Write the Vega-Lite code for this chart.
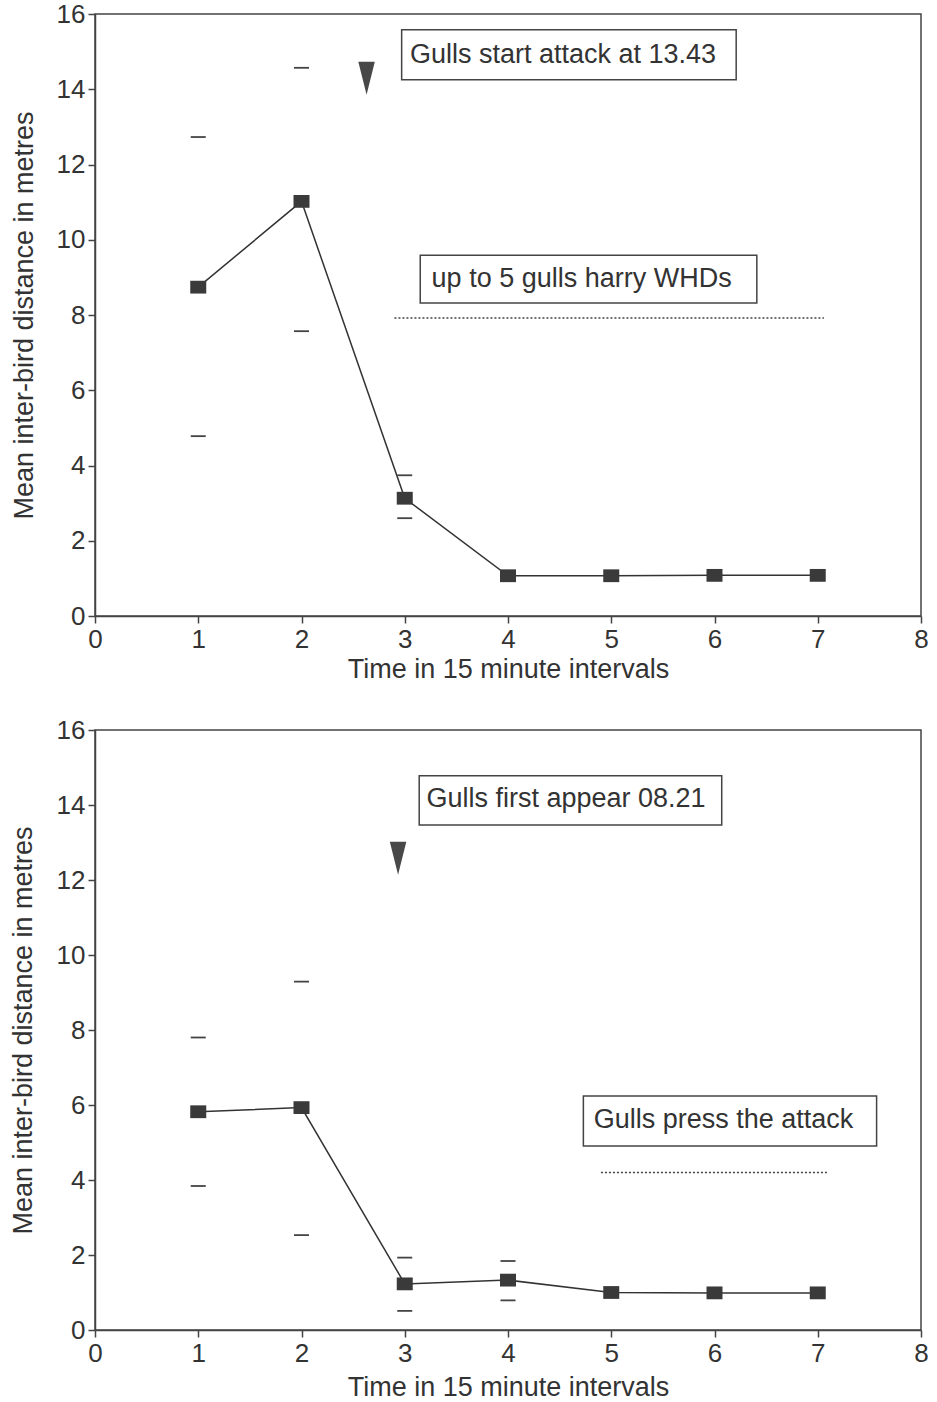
{
  "$schema": "https://vega.github.io/schema/vega-lite/v6.json",
  "padding": {"left": 8, "top": 0, "right": 4, "bottom": 0},
  "config": {
    "font": "Liberation Sans",
    "view": {"stroke": "#444", "strokeWidth": 1.5},
    "axis": {"grid": false, "domainColor": "#444", "domainWidth": 1.5, "tickColor": "#444", "tickWidth": 1.5, "tickSize": 7, "labelFontSize": 26, "labelColor": "#333", "labelPadding": 3, "titleFontSize": 27, "titleFontWeight": "normal", "titleColor": "#333", "labelFlush": false, "labelOverlap": false, "format": "d"}
  },
  "datasets": {
    "top_means": [
      {"t": 1, "mean": 8.74, "hi": 12.73, "lo": 4.78},
      {"t": 2, "mean": 11.02, "hi": 14.57, "lo": 7.57},
      {"t": 3, "mean": 3.13, "hi": 3.74, "lo": 2.6},
      {"t": 4, "mean": 1.07, "hi": null, "lo": null},
      {"t": 5, "mean": 1.07, "hi": null, "lo": null},
      {"t": 6, "mean": 1.08, "hi": null, "lo": null},
      {"t": 7, "mean": 1.08, "hi": null, "lo": null}
    ],
    "bottom_means": [
      {"t": 1, "mean": 5.82, "hi": 7.8, "lo": 3.84},
      {"t": 2, "mean": 5.93, "hi": 9.29, "lo": 2.53},
      {"t": 3, "mean": 1.23, "hi": 1.93, "lo": 0.51},
      {"t": 4, "mean": 1.33, "hi": 1.84, "lo": 0.79},
      {"t": 5, "mean": 1.0, "hi": null, "lo": null},
      {"t": 6, "mean": 0.99, "hi": null, "lo": null},
      {"t": 7, "mean": 0.99, "hi": null, "lo": null}
    ],
    "top_boxes": [
      {"x1": 2.97, "x2": 6.21, "y1": 15.58, "y2": 14.25, "label": "Gulls start attack at 13.43", "tx": 3.05, "ty": 14.9},
      {"x1": 3.15, "x2": 6.41, "y1": 9.59, "y2": 8.32, "label": "up to 5 gulls harry WHDs", "tx": 3.26, "ty": 8.95}
    ],
    "bottom_boxes": [
      {"x1": 3.14, "x2": 6.07, "y1": 14.78, "y2": 13.47, "label": "Gulls first appear 08.21", "tx": 3.21, "ty": 14.15},
      {"x1": 4.73, "x2": 7.57, "y1": 6.24, "y2": 4.91, "label": "Gulls press the attack", "tx": 4.83, "ty": 5.61}
    ],
    "top_dotted": [{"x1": 2.9, "x2": 7.06, "y": 7.92}],
    "bottom_dotted": [{"x1": 4.9, "x2": 7.1, "y": 4.2}],
    "top_arrow": [{"x": 2.63, "y": 14.29}],
    "bottom_arrow": [{"x": 2.935, "y": 12.58}]
  },
  "spacing": 33,
  "vconcat": [
    {
      "width": 826,
      "height": 602,
      "layer": [
        {
          "data": {"name": "top_boxes"},
          "mark": {"type": "rect", "fill": "white", "stroke": "#444", "strokeWidth": 1.5},
          "encoding": {
            "x": {"field": "x1", "type": "quantitative", "title": "Time in 15 minute intervals", "scale": {"domain": [0, 8], "nice": false}, "axis": {"values": [0, 1, 2, 3, 4, 5, 6, 7, 8], "titlePadding": 4}},
            "x2": {"field": "x2"},
            "y": {"field": "y1", "type": "quantitative", "title": "Mean inter-bird distance in metres", "scale": {"domain": [0, 16], "nice": false}, "axis": {"values": [0, 2, 4, 6, 8, 10, 12, 14, 16], "titlePadding": 18}},
            "y2": {"field": "y2"}
          }
        },
        {
          "data": {"name": "top_boxes"},
          "mark": {"type": "text", "align": "left", "baseline": "middle", "fontSize": 27, "color": "#333"},
          "encoding": {
            "x": {"field": "tx", "type": "quantitative", "title": "Time in 15 minute intervals"},
            "y": {"field": "ty", "type": "quantitative", "title": "Mean inter-bird distance in metres"},
            "text": {"field": "label"}
          }
        },
        {
          "data": {"name": "top_dotted"},
          "mark": {"type": "rule", "strokeDash": [2, 2], "strokeWidth": 1.5, "color": "#444"},
          "encoding": {
            "x": {"field": "x1", "type": "quantitative", "title": "Time in 15 minute intervals"},
            "x2": {"field": "x2"},
            "y": {"field": "y", "type": "quantitative", "title": "Mean inter-bird distance in metres"}
          }
        },
        {
          "data": {"name": "top_arrow"},
          "mark": {"type": "point", "shape": "M-0.5,-1L0.5,-1L0,1Z", "size": 1089, "filled": true, "color": "#484848", "opacity": 1},
          "encoding": {
            "x": {"field": "x", "type": "quantitative", "title": "Time in 15 minute intervals"},
            "y": {"field": "y", "type": "quantitative", "title": "Mean inter-bird distance in metres"}
          }
        },
        {
          "data": {"name": "top_means"},
          "mark": {"type": "line", "color": "#333", "strokeWidth": 1.5},
          "encoding": {
            "x": {"field": "t", "type": "quantitative", "title": "Time in 15 minute intervals"},
            "y": {"field": "mean", "type": "quantitative", "title": "Mean inter-bird distance in metres"}
          }
        },
        {
          "data": {"name": "top_means"},
          "mark": {"type": "point", "shape": "M-1,-0.8L1,-0.8L1,0.8L-1,0.8Z", "size": 256, "filled": true, "color": "#3a3a3a", "opacity": 1},
          "encoding": {
            "x": {"field": "t", "type": "quantitative", "title": "Time in 15 minute intervals"},
            "y": {"field": "mean", "type": "quantitative", "title": "Mean inter-bird distance in metres"}
          }
        },
        {
          "data": {"name": "top_means"},
          "mark": {"type": "point", "shape": "stroke", "size": 225, "filled": false, "strokeWidth": 1.8, "color": "#444", "opacity": 1},
          "encoding": {
            "x": {"field": "t", "type": "quantitative", "title": "Time in 15 minute intervals"},
            "y": {"field": "hi", "type": "quantitative", "title": "Mean inter-bird distance in metres"}
          }
        },
        {
          "data": {"name": "top_means"},
          "mark": {"type": "point", "shape": "stroke", "size": 225, "filled": false, "strokeWidth": 1.8, "color": "#444", "opacity": 1},
          "encoding": {
            "x": {"field": "t", "type": "quantitative", "title": "Time in 15 minute intervals"},
            "y": {"field": "lo", "type": "quantitative", "title": "Mean inter-bird distance in metres"}
          }
        }
      ]
    },
    {
      "width": 826,
      "height": 600,
      "layer": [
        {
          "data": {"name": "bottom_boxes"},
          "mark": {"type": "rect", "fill": "white", "stroke": "#444", "strokeWidth": 1.5},
          "encoding": {
            "x": {"field": "x1", "type": "quantitative", "title": "Time in 15 minute intervals", "scale": {"domain": [0, 8], "nice": false}, "axis": {"values": [0, 1, 2, 3, 4, 5, 6, 7, 8], "titlePadding": 8}},
            "x2": {"field": "x2"},
            "y": {"field": "y1", "type": "quantitative", "title": "Mean inter-bird distance in metres", "scale": {"domain": [0, 16], "nice": false}, "axis": {"values": [0, 2, 4, 6, 8, 10, 12, 14, 16], "titlePadding": 19}},
            "y2": {"field": "y2"}
          }
        },
        {
          "data": {"name": "bottom_boxes"},
          "mark": {"type": "text", "align": "left", "baseline": "middle", "fontSize": 27, "color": "#333"},
          "encoding": {
            "x": {"field": "tx", "type": "quantitative", "title": "Time in 15 minute intervals"},
            "y": {"field": "ty", "type": "quantitative", "title": "Mean inter-bird distance in metres"},
            "text": {"field": "label"}
          }
        },
        {
          "data": {"name": "bottom_dotted"},
          "mark": {"type": "rule", "strokeDash": [2, 2], "strokeWidth": 1.5, "color": "#444"},
          "encoding": {
            "x": {"field": "x1", "type": "quantitative", "title": "Time in 15 minute intervals"},
            "x2": {"field": "x2"},
            "y": {"field": "y", "type": "quantitative", "title": "Mean inter-bird distance in metres"}
          }
        },
        {
          "data": {"name": "bottom_arrow"},
          "mark": {"type": "point", "shape": "M-0.5,-1L0.5,-1L0,1Z", "size": 1089, "filled": true, "color": "#484848", "opacity": 1},
          "encoding": {
            "x": {"field": "x", "type": "quantitative", "title": "Time in 15 minute intervals"},
            "y": {"field": "y", "type": "quantitative", "title": "Mean inter-bird distance in metres"}
          }
        },
        {
          "data": {"name": "bottom_means"},
          "mark": {"type": "line", "color": "#333", "strokeWidth": 1.5},
          "encoding": {
            "x": {"field": "t", "type": "quantitative", "title": "Time in 15 minute intervals"},
            "y": {"field": "mean", "type": "quantitative", "title": "Mean inter-bird distance in metres"}
          }
        },
        {
          "data": {"name": "bottom_means"},
          "mark": {"type": "point", "shape": "M-1,-0.8L1,-0.8L1,0.8L-1,0.8Z", "size": 256, "filled": true, "color": "#3a3a3a", "opacity": 1},
          "encoding": {
            "x": {"field": "t", "type": "quantitative", "title": "Time in 15 minute intervals"},
            "y": {"field": "mean", "type": "quantitative", "title": "Mean inter-bird distance in metres"}
          }
        },
        {
          "data": {"name": "bottom_means"},
          "mark": {"type": "point", "shape": "stroke", "size": 225, "filled": false, "strokeWidth": 1.8, "color": "#444", "opacity": 1},
          "encoding": {
            "x": {"field": "t", "type": "quantitative", "title": "Time in 15 minute intervals"},
            "y": {"field": "hi", "type": "quantitative", "title": "Mean inter-bird distance in metres"}
          }
        },
        {
          "data": {"name": "bottom_means"},
          "mark": {"type": "point", "shape": "stroke", "size": 225, "filled": false, "strokeWidth": 1.8, "color": "#444", "opacity": 1},
          "encoding": {
            "x": {"field": "t", "type": "quantitative", "title": "Time in 15 minute intervals"},
            "y": {"field": "lo", "type": "quantitative", "title": "Mean inter-bird distance in metres"}
          }
        }
      ]
    }
  ]
}
